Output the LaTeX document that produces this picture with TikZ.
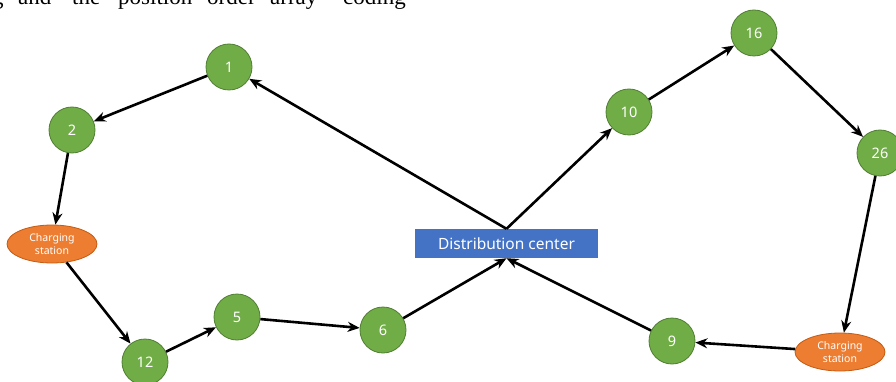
\documentclass[tikz,border=0pt]{standalone}
\usepackage{fontspec}
\setmainfont{Liberation Serif}
\newfontfamily\labelfont{Noto Sans}
\usetikzlibrary{arrows.meta,shapes.geometric}
\definecolor{cgreen}{HTML}{70AD47}
\definecolor{cgreenb}{HTML}{507E32}
\definecolor{corange}{HTML}{ED7D31}
\definecolor{corangeb}{HTML}{C55A11}
\definecolor{cblue}{HTML}{4472C4}
\tikzset{
  cust/.style={circle,fill=cgreen,draw=cgreenb,line width=0.8pt,minimum size=46pt,inner sep=0pt,text=white,font=\labelfont\fontsize{14.5}{16}\selectfont},
  charge/.style={ellipse,fill=corange,draw=corangeb,line width=0.8pt,minimum width=90pt,minimum height=38pt,inner sep=0pt,text=white,align=center,font=\labelfont\fontsize{10.5}{12.5}\selectfont},
  depot/.style={rectangle,fill=cblue,minimum width=183pt,minimum height=29pt,inner sep=0pt,text=white,font=\labelfont\fontsize{15.5}{17}\selectfont},
  route/.style={line width=2.6pt,-{Stealth[length=12pt,width=10pt]}},
  bodytext/.style={anchor=base west,inner sep=0pt,font=\fontsize{23}{26}\selectfont}
}
\begin{document}
\begin{tikzpicture}[x=1pt,y=-1pt]
\useasboundingbox (0,0) rectangle (896,382);
\clip (0,0) rectangle (896,382);
\fill[white] (0,0) rectangle (896,382);
% cut-off body text
\node[bodytext] (w0) at (-8,4.5) {g};
\node[bodytext] (w1) at (18,4.5) {and};
\node[bodytext] (w2) at (72,4.5) {the};
\node[bodytext] (w3) at (118,4.5) {position};
\node[bodytext] (w4) at (207,4.5) {order};
\node[bodytext] (w5) at (270,4.5) {array};
\node[bodytext] (w6) at (343,4.5) {coding};
% nodes
\node[cust] (n1) at (229,67) {1};
\node[cust] (n2) at (72,130) {2};
\node[charge] (csl) at (52,244) {Charging\\station};
\node[cust] (n12) at (145,362) {12};
\node[cust] (n5) at (237,317) {5};
\node[cust] (n6) at (383,330) {6};
\node[depot] (dc) at (506.5,243.5) {Distribution center};
\node[cust] (n10) at (629,112) {10};
\node[cust] (n16) at (754,33) {16};
\node[cust] (n26) at (880,153) {26};
\node[cust] (n9) at (672,341) {9};
\node[charge] (csr) at (840,352) {Charging\\station};
% routes
\draw[route] (n1) -- (n2);
\draw[route] (n2) -- (csl);
\draw[route] (csl) -- (n12);
\draw[route] (n12) -- (n5);
\draw[route] (n5) -- (n6);
\draw[route] (n6) -- (dc.south);
\draw[route] (dc.north) -- (n1);
\draw[route] (dc.north) -- (n10);
\draw[route] (n10) -- (n16);
\draw[route] (n16) -- (n26);
\draw[route] (n26) -- (csr);
\draw[route] (csr) -- (n9);
\draw[route] (n9) -- (dc.south);
\end{tikzpicture}
\end{document}
